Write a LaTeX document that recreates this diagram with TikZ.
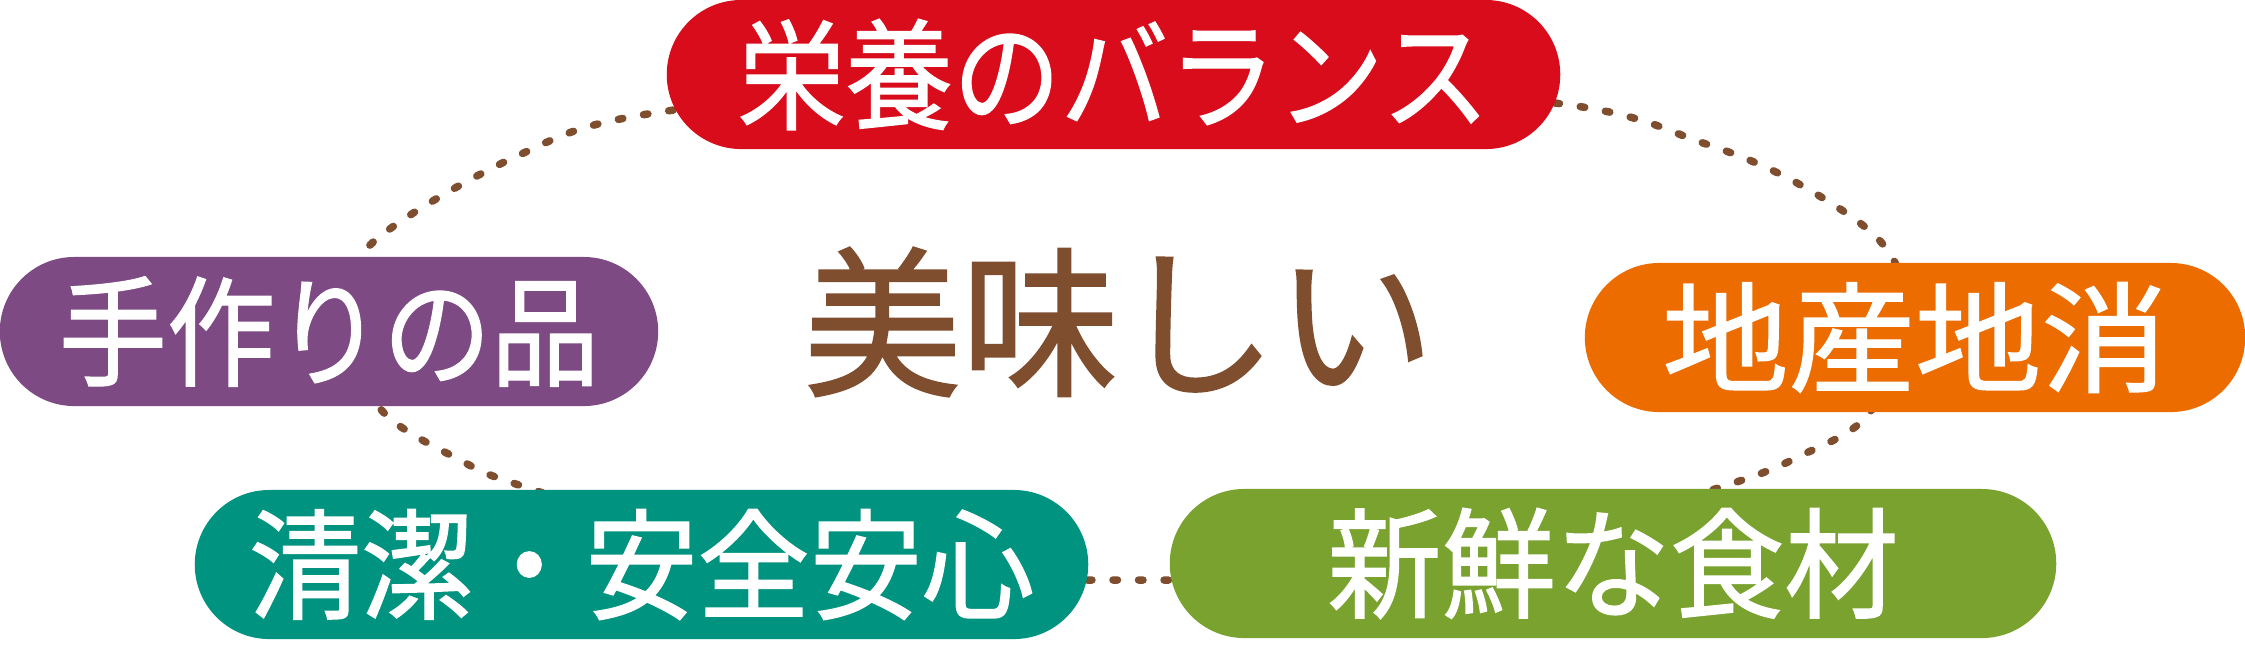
\documentclass[tikz,border=0pt]{standalone}
\usepackage{fontspec}
\newfontfamily\jp{Noto Sans CJK JP}
\newfontfamily\jpb[FakeBold=1.2]{Noto Sans CJK JP}
\usetikzlibrary{shapes.misc}
\definecolor{cred}{HTML}{D90C1C}
\definecolor{cpurple}{HTML}{7D4A84}
\definecolor{corange}{HTML}{EC6C00}
\definecolor{cteal}{HTML}{009380}
\definecolor{cgreen}{HTML}{79A22F}
\definecolor{cbrown}{HTML}{7F4E2F}
\begin{document}
\begin{tikzpicture}[x=0.01cm,y=-0.01cm,
  pill/.style={rounded rectangle, minimum height=1.49cm, inner sep=0pt, text=white,
    font=\jpb\fontsize{34}{34}\selectfont},
  dotloop/.style={draw=cbrown, line width=0.075cm, line cap=round,
    dash pattern=on 0.045cm off 0.21cm}]
\useasboundingbox (0,0) rectangle (2245,650);
% dotted loop behind the pills
\draw[dotloop] plot[smooth cycle, tension=0.55] coordinates {
  (1113,68) (1555,103) (1703,143) (1797,183) (1881,242) (1905,310)
  (1870,412) (1800,456) (1715,489) (1450,568) (1113,580) (790,568)
  (531,489) (460,460) (379,407) (358,320) (368,247) (517,156) (667,111)};
% pills
\node[pill, fill=cred, minimum width=8.93cm] (nutri) at (1113.5,74.5)
  {\resizebox{7.51cm}{\height}{栄養のバランス}};
\node[pill, fill=cpurple, minimum width=6.58cm] (hand) at (329,331.5)
  {\resizebox{5.40cm}{\height}{手作りの品}};
\node[pill, fill=corange, minimum width=6.60cm] (local) at (1915,337.5)
  {\resizebox{5.05cm}{\height}{地産地消}};
\node[pill, fill=cteal, minimum width=8.93cm] (clean) at (641.5,564.5)
  {\resizebox{7.85cm}{\height}{清潔・安全安心}};
\node[pill, fill=cgreen, minimum width=8.86cm] (fresh) at (1613,563.5)
  {\resizebox{5.71cm}{\height}{新鮮な食材}};
% centre word
\node[text=cbrown, inner sep=0pt, font=\jpb\fontsize{46}{46}\selectfont] (tasty) at (1119,322)
  {\resizebox{6.30cm}{\height}{美味しい}};
\end{tikzpicture}
\end{document}
